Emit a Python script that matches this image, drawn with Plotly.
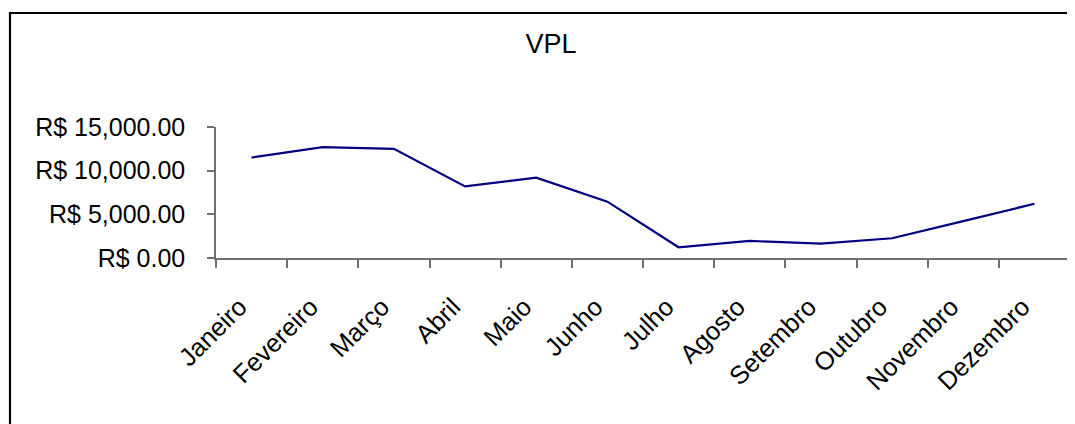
import plotly.graph_objects as go

months = ["Janeiro", "Fevereiro", "Março", "Abril", "Maio", "Junho",
          "Julho", "Agosto", "Setembro", "Outubro", "Novembro", "Dezembro"]
vpl_values = [11500, 12700, 12500, 8200, 9200, 6450,
              1230, 1950, 1640, 2260, 4230, 6210]
y_ticks = [0, 5000, 10000, 15000]
y_tick_labels = ["R$ 0.00", "R$ 5,000.00", "R$ 10,000.00", "R$ 15,000.00"]
title_text = "VPL"

FONT = "Liberation Sans, Arial, sans-serif"
OFF = 8  # page body margin
W, H = 1075 - OFF, 424 - OFF
L, R, T, B = 216 - OFF, 5, 127 - OFF, 166
pw = W - L - R
ph = H - T - B

fig = go.Figure()
fig.add_trace(go.Scatter(
    x=months, y=vpl_values, mode="lines",
    line=dict(color="#000080", width=2.2),
    showlegend=False, hoverinfo="x+y"))

# outer chart-area border (extends past right and bottom edges)
fig.add_shape(type="rect", xref="paper", yref="paper",
              x0=(10 - OFF - L) / pw, x1=1.2,
              y0=-2.0, y1=(T + ph - (13 - OFF)) / ph,
              line=dict(color="black", width=2.2), fillcolor="rgba(0,0,0,0)",
              layer="below")

fig.update_layout(
    width=W, height=H,
    margin=dict(l=L, r=R, t=T, b=B, autoexpand=False),
    paper_bgcolor="white", plot_bgcolor="white",
    font=dict(family=FONT, color="black", size=25),
    title=dict(text=title_text, x=(551 - OFF) / W, xref="container", xanchor="center",
               y=1 - (44 - OFF) / H, yref="container", yanchor="middle",
               font=dict(family=FONT, size=27, color="black")),
    xaxis=dict(type="category", range=[-0.5, 11.5], tickson="boundaries",
               ticks="outside", ticklen=8, tickwidth=1.5, tickcolor="#707070",
               showline=True, linecolor="#707070", linewidth=1.5,
               showgrid=False, zeroline=False, tickangle=-45,
               ticklabelshift=-12, ticklabelstandoff=22,
               tickfont=dict(family=FONT, size=25.5, color="black")),
    yaxis=dict(range=[0, 15000], tickvals=y_ticks, ticktext=y_tick_labels,
               ticks="outside", ticklen=7, tickwidth=1.5,
               tickcolor="#707070", showline=True, linecolor="#707070",
               linewidth=1.5, showgrid=False, zeroline=False,
               ticklabelstandoff=17,
               tickfont=dict(family=FONT, size=25, color="black")),
)

fig.write_html("out.html")
